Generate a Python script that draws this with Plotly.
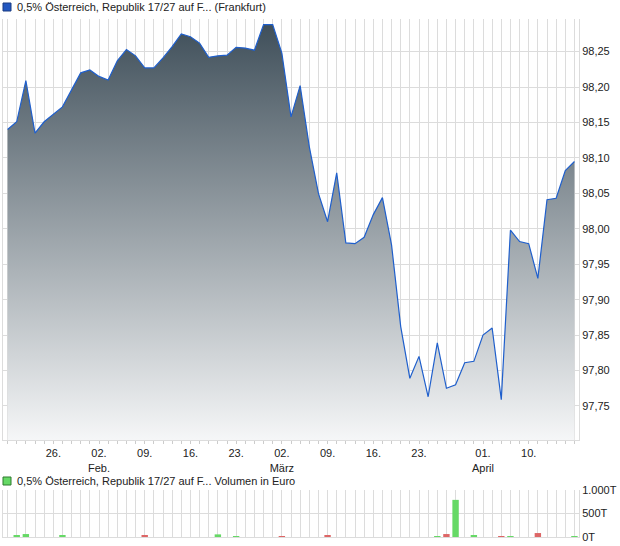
import plotly.graph_objects as go

# ---------------- data ----------------
dates = [
    "2026-01-19", "2026-01-20", "2026-01-21", "2026-01-22", "2026-01-23",
    "2026-01-26", "2026-01-27", "2026-01-28", "2026-01-29", "2026-01-30",
    "2026-02-02", "2026-02-03", "2026-02-04", "2026-02-05", "2026-02-06",
    "2026-02-09", "2026-02-10", "2026-02-11", "2026-02-12", "2026-02-13",
    "2026-02-16", "2026-02-17", "2026-02-18", "2026-02-19", "2026-02-20",
    "2026-02-23", "2026-02-24", "2026-02-25", "2026-02-26", "2026-02-27",
    "2026-03-02", "2026-03-03", "2026-03-04", "2026-03-05", "2026-03-06",
    "2026-03-09", "2026-03-10", "2026-03-11", "2026-03-12", "2026-03-13",
    "2026-03-16", "2026-03-17", "2026-03-18", "2026-03-19", "2026-03-20",
    "2026-03-23", "2026-03-24", "2026-03-25", "2026-03-26", "2026-03-27",
    "2026-03-30", "2026-03-31", "2026-04-01", "2026-04-02",
    "2026-04-07", "2026-04-08", "2026-04-09", "2026-04-10",
    "2026-04-13", "2026-04-14", "2026-04-15", "2026-04-16", "2026-04-17",
]

prices = [
    98.140, 98.151, 98.209, 98.135, 98.151,
    98.161, 98.172, 98.196, 98.220, 98.224,
    98.215, 98.210, 98.237, 98.253, 98.244,
    98.227, 98.227, 98.241, 98.257, 98.275,
    98.271, 98.262, 98.242, 98.244, 98.245,
    98.256, 98.255, 98.252, 98.288, 98.288,
    98.248, 98.158, 98.202, 98.116, 98.050,
    98.010, 98.079, 97.980, 97.979, 97.988,
    98.020, 98.044, 97.977, 97.862, 97.789,
    97.820, 97.763, 97.839, 97.775, 97.780,
    97.811, 97.813, 97.850, 97.860,
    97.759, 97.998, 97.982, 97.979,
    97.930, 98.041, 98.043, 98.082, 98.095,
]

vol_dates = ["2026-01-20", "2026-01-21", "2026-01-27", "2026-02-09", "2026-02-19",
             "2026-02-23", "2026-03-02", "2026-03-09", "2026-03-25", "2026-03-26",
             "2026-03-27", "2026-03-31", "2026-04-07", "2026-04-08", "2026-04-13",
             "2026-04-17"]
vol_values_T = [35, 63, 35, 35, 56, 20, 14, 35, 14, 63, 790, 35, 14, 14, 84, 14]
vol_direction = ["up", "up", "up", "down", "up", "up", "down", "down", "up", "down",
                 "up", "up", "down", "up", "down", "up"]

tick_dates = ["2026-01-26", "2026-02-02", "2026-02-09", "2026-02-16", "2026-02-23",
              "2026-03-02", "2026-03-09", "2026-03-16", "2026-03-23", "2026-04-01",
              "2026-04-10"]
tick_labels = ["26.", "02.<br>Feb.", "09.", "16.", "23.", "02.<br>März", "09.",
               "16.", "23.", "01.<br>April", "10."]

price_ticks = [97.75, 97.80, 97.85, 97.90, 97.95, 98.00, 98.05, 98.10, 98.15, 98.20, 98.25]
vol_ticks = [0, 500, 1000]
vol_tick_labels = ["0T", "500T", "1.000T"]

title_price = "0,5% Österreich, Republik 17/27 auf F... (Frankfurt)"
title_vol = "0,5% Österreich, Republik 17/27 auf F... Volumen in Euro"

# ---------------- figure ----------------
W, H = 620, 546
ML, MR = 3, 41
PW = W - ML - MR

def px_x(p):
    return (p - ML) / PW

def px_y(p):
    return (H - p) / H

label_map = dict(zip(tick_dates, tick_labels))
all_ticktext = [label_map.get(d, "") for d in dates]

color_map = {"up": "#66d966", "down": "#dd6666"}
vol_colors = [color_map[d] for d in vol_direction]

grid = "#dcdcdc"
font = dict(family="Liberation Sans, Arial, sans-serif", size=11, color="#222222")

fig = go.Figure()

fig.add_trace(go.Scatter(
    x=dates, y=prices, mode="lines",
    line=dict(color="#1f5fcc", width=1.2),
    fill="tozeroy",
    fillgradient=dict(type="vertical", start=97.70, stop=98.30,
                      colorscale=[[0, "#f6f7f8"], [1, "#3c4c57"]]),
    xaxis="x", yaxis="y", showlegend=False, hoverinfo="x+y",
))

fig.add_trace(go.Bar(
    x=vol_dates, y=vol_values_T, marker=dict(color=vol_colors, line=dict(width=0)),
    xaxis="x2", yaxis="y2", showlegend=False,
))

xcommon = dict(
    type="category", categoryorder="array", categoryarray=dates,
    range=[-0.5, len(dates) - 0.5],
    tickmode="array", tickvals=dates,
    showgrid=True, gridcolor=grid, gridwidth=1,
    showline=True, linecolor=grid, linewidth=1,
    zeroline=False, fixedrange=True, automargin=False,
)

fig.update_layout(
    width=W, height=H, autosize=False,
    margin=dict(l=ML, r=MR, t=0, b=0, pad=0),
    paper_bgcolor="white", plot_bgcolor="white",
    font=font, separators=",.",
    bargap=0.3,
    xaxis=dict(**xcommon, ticktext=all_ticktext, ticks="outside", ticklen=3,
               tickcolor="#cccccc", anchor="y",
               tickfont=dict(size=11, color="#222222")),
    yaxis=dict(domain=[px_y(440), px_y(19)], range=[97.702, 98.296], side="right",
               tickmode="array", tickvals=price_ticks,
               ticktext=[f"{v:.2f}".replace(".", ",") for v in price_ticks],
               showgrid=True, gridcolor=grid, gridwidth=1,
               showline=True, mirror=True, linecolor=grid,
               zeroline=False, ticks="", anchor="x", automargin=False,
               tickfont=dict(size=11, color="#222222")),
    xaxis2=dict(**xcommon, ticktext=["" for _ in dates], ticks="", anchor="y2",
                showticklabels=False),
    yaxis2=dict(domain=[px_y(537), px_y(490)], range=[0, 1000], side="right",
                tickmode="array", tickvals=vol_ticks, ticktext=vol_tick_labels,
                showgrid=True, gridcolor=grid, gridwidth=1,
                showline=True, mirror=True, linecolor=grid,
                zeroline=False, ticks="", anchor="x2", automargin=False,
                tickfont=dict(size=11, color="#222222")),
)

# legend-like headers
fig.add_shape(type="rect", xref="paper", yref="paper",
              x0=px_x(3), x1=px_x(11), y0=px_y(11), y1=px_y(3),
              fillcolor="#2257c0", line=dict(color="#1a3c82", width=1))
fig.add_annotation(xref="paper", yref="paper", x=px_x(15), y=px_y(7),
                   xanchor="left", yanchor="middle", showarrow=False,
                   text=title_price, font=dict(size=11, color="#222222"))
fig.add_shape(type="rect", xref="paper", yref="paper",
              x0=px_x(3), x1=px_x(11), y0=px_y(485), y1=px_y(477),
              fillcolor="#66d966", line=dict(color="#2f7a2f", width=1))
fig.add_annotation(xref="paper", yref="paper", x=px_x(15), y=px_y(481),
                   xanchor="left", yanchor="middle", showarrow=False,
                   text=title_vol, font=dict(size=11, color="#222222"))

fig.write_html("out.html", config={"displayModeBar": False},
               post_script="document.body.style.margin='0';document.body.style.overflow='hidden';")
